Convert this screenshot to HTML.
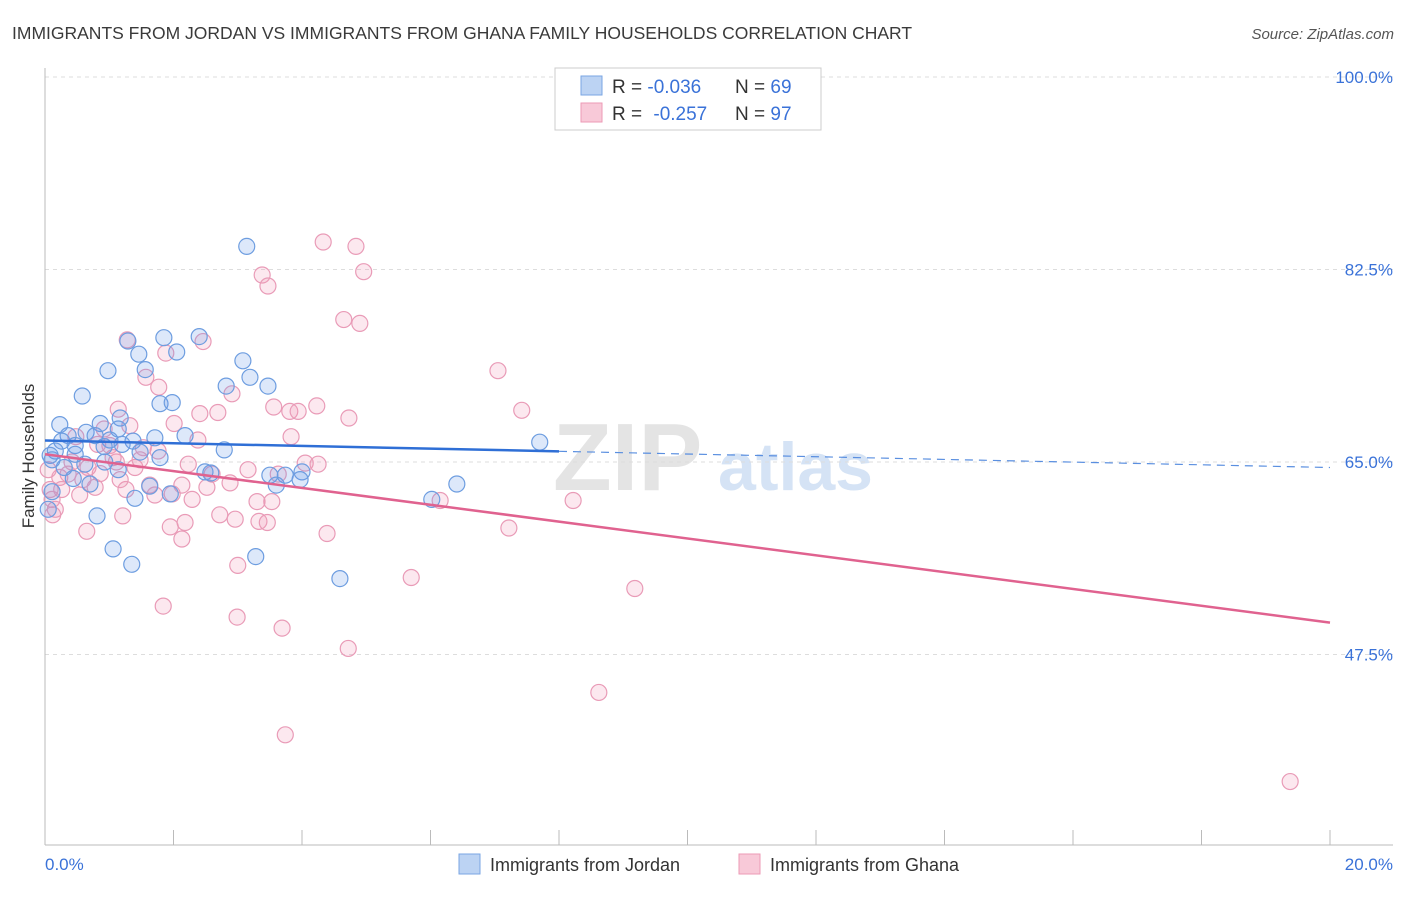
<!DOCTYPE html>
<html><head><meta charset="utf-8"><style>
body{margin:0;background:#fff;font-family:"Liberation Sans",sans-serif;}
svg text{font-family:"Liberation Sans",sans-serif;}
</style></head><body>
<svg id="chart" width="1406" height="892" xmlns="http://www.w3.org/2000/svg">
<text x="12" y="39" font-size="17.5" fill="#3a3a3a">IMMIGRANTS FROM JORDAN VS IMMIGRANTS FROM GHANA FAMILY HOUSEHOLDS CORRELATION CHART</text>
<text x="1394" y="39" font-size="15" fill="#555" font-style="italic" text-anchor="end">Source: ZipAtlas.com</text>
<g>
<text x="553" y="490" font-size="96" fill="#e4e4e4" font-family="Liberation Serif" font-weight="bold">ZIP</text>
<text x="718" y="490" font-size="68" fill="#d5e3f5" font-weight="bold">atlas</text>
</g>
<g id="grid"></g>
<g id="axes"></g>
<g id="points"></g>
<g id="trends"></g>
<text transform="translate(34,456) rotate(-90)" font-size="17" fill="#333" text-anchor="middle">Family Households</text>
<g>
<rect x="555" y="68" width="266" height="62" fill="#fff" stroke="#ccc"/>
<rect x="581" y="76" width="21" height="19" fill="#bcd3f3" stroke="#7aa6e3"/>
<rect x="581" y="103" width="21" height="19" fill="#f8c9d8" stroke="#ec9ab6"/>
<text x="612" y="93" font-size="19" fill="#333">R = <tspan fill="#3a72d8">-0.036</tspan><tspan x="735">N = </tspan><tspan fill="#3a72d8">69</tspan></text>
<text x="612" y="120" font-size="19" fill="#333">R = <tspan fill="#3a72d8" dx="6">-0.257</tspan><tspan x="735">N = </tspan><tspan fill="#3a72d8">97</tspan></text>
</g>
<g>
<g><rect x="459" y="854" width="21" height="20" fill="#bcd3f3" stroke="#7aa6e3"/><text x="490" y="871" font-size="18" fill="#333">Immigrants from Jordan</text></g>
<g><rect x="739" y="854" width="21" height="20" fill="#f8c9d8" stroke="#ec9ab6"/><text x="770" y="871" font-size="18" fill="#333">Immigrants from Ghana</text></g>
</g>
</svg>
<script>
const yTicks=[100,82.5,65,47.5];
const yTickLabels=["100.0%","82.5%","65.0%","47.5%"];
const xEndLabels=["0.0%","20.0%"];
const jordanX=[3.14,1.85,2.40,1.29,1.46,2.05,3.08,0.98,1.56,2.82,3.19,3.47,0.58,1.79,1.98,1.17,0.23,0.86,1.14,0.64,0.36,0.78,1.71,2.18,1.37,1.01,0.26,0.47,0.16,0.08,2.79,7.70,0.92,1.20,1.79,1.48,0.62,0.30,0.93,1.14,2.49,2.58,3.50,3.74,4.00,3.97,3.60,0.44,0.70,1.95,1.40,6.41,6.02,0.11,0.05,0.81,1.06,3.28,1.35,4.59,0.11,0.47,1.63];
const jordanY=[84.6,76.3,76.4,76.0,74.8,75.0,74.2,73.3,73.4,71.9,72.7,71.9,71.0,70.3,70.4,69.0,68.4,68.5,68.0,67.7,67.4,67.4,67.2,67.4,66.9,67.0,66.9,66.5,66.0,65.6,66.1,66.8,66.4,66.6,65.4,65.9,64.8,64.5,65.0,64.3,64.1,64.0,63.8,63.8,64.1,63.4,62.9,63.5,63.0,62.1,61.7,63.0,61.6,62.3,60.7,60.1,57.1,56.4,55.7,54.4,65.2,65.7,62.8];
const ghanaX=[4.33,4.84,3.38,4.96,3.47,4.65,4.90,1.28,2.46,1.88,1.57,1.77,2.91,7.05,3.56,3.81,4.23,3.94,2.41,2.69,7.42,4.73,1.14,2.01,0.92,1.32,3.83,2.38,0.48,1.01,1.53,1.76,2.23,3.16,3.63,4.05,4.25,2.60,2.88,0.42,0.67,0.23,0.86,1.11,1.40,2.13,2.52,0.78,1.26,1.63,1.71,1.98,2.29,0.26,3.30,3.53,8.22,6.15,0.11,0.16,0.54,2.72,1.21,2.96,3.33,3.46,1.95,2.18,7.22,4.39,0.65,2.13,3.00,5.70,9.18,1.84,2.99,3.69,4.72,8.62,3.74,19.38,0.05,0.08,0.12,0.36,1.48,1.06,0.82,1.17,0.59];
const ghanaY=[85.0,84.6,82.0,82.3,81.0,77.95,77.6,76.1,75.95,74.9,72.7,71.8,71.2,73.3,70.0,69.6,70.1,69.6,69.4,69.5,69.7,69.0,69.8,68.5,68.0,68.3,67.3,67.0,67.3,66.5,66.3,66.0,64.8,64.3,63.9,64.9,64.8,63.9,63.1,65.0,64.5,63.6,63.95,65.0,64.5,62.9,62.7,62.7,62.5,62.9,62.0,62.1,61.6,62.5,61.4,61.4,61.5,61.5,61.6,60.7,62.0,60.2,60.1,59.8,59.6,59.5,59.1,59.5,59.0,58.5,58.7,58.0,55.6,54.5,53.5,51.9,50.9,49.9,48.05,44.05,40.2,35.95,64.3,62.5,60.2,63.9,65.2,65.4,66.6,63.4,63.4];
const jordanTrend=[66.95,64.5];
const ghanaTrend=[65.7,50.4];
const jordanSolidEnd=8.0;

const NS="http://www.w3.org/2000/svg";
const X0=45,X1=1330,xMin=0,xMax=20;
const yPx=v=>462-(v-65)*(192.5/17.5);
const xPx=v=>X0+(v-xMin)/(xMax-xMin)*(X1-X0);
function mk(tag,attrs,parent){const e=document.createElementNS(NS,tag);for(const k in attrs)e.setAttribute(k,attrs[k]);parent.appendChild(e);return e;}
const grid=document.getElementById('grid'),axes=document.getElementById('axes'),pts=document.getElementById('points'),tr=document.getElementById('trends');
yTicks.forEach((t,i)=>{
 const l=mk('line',{x1:X0,x2:1393,y1:yPx(t),y2:yPx(t),stroke:'#ddd','stroke-dasharray':'4,4'},grid);
 
 
 const tx=mk('text',{x:1393,y:yPx(t)+6,'font-size':17,fill:'#3a72d8','text-anchor':'end'},axes);
 tx.textContent=yTickLabels[i];
 
 
});
const ax=mk('line',{x1:X0,x2:X0,y1:68,y2:845,stroke:'#bbb'},axes);


const bx=mk('line',{x1:X0,x2:1393,y1:845,y2:845,stroke:'#bbb'},axes);


for(let i=0;i<=10;i++){
 const tk=mk('line',{x1:xPx(i*2),x2:xPx(i*2),y1:830,y2:845,stroke:'#bbb'},axes);
 
 
}
[[xEndLabels[0],X0,'start'],[xEndLabels[1],1393,'end']].forEach(a=>{
 const t=mk('text',{x:a[1],y:870,'font-size':17,fill:'#3a72d8','text-anchor':a[2]},axes);
 t.textContent=a[0];
 
 
});
function drawPts(xs,ys,fill,stroke,name){
 xs.forEach((x,i)=>{
  const c=mk('circle',{cx:xPx(x),cy:yPx(ys[i]),r:8,fill:fill,stroke:stroke,'stroke-width':1.2},pts);
  
  
 });
}
drawPts(ghanaX,ghanaY,'rgba(240,150,180,0.22)','#e99bb7','ghana-point');
drawPts(jordanX,jordanY,'rgba(100,150,230,0.22)','#6d9de0','jordan-point');
const jy=x=>jordanTrend[0]+(jordanTrend[1]-jordanTrend[0])*(x-xMin)/(xMax-xMin);
const j1=mk('line',{x1:xPx(0),y1:yPx(jy(0)),x2:xPx(jordanSolidEnd),y2:yPx(jy(jordanSolidEnd)),stroke:'#2f6fd6','stroke-width':2.5},tr);


const j2=mk('line',{x1:xPx(jordanSolidEnd),y1:yPx(jy(jordanSolidEnd)),x2:xPx(20),y2:yPx(jy(20)),stroke:'#5a8fe0','stroke-width':1.2,'stroke-dasharray':'8,6'},tr);


const g1=mk('line',{x1:xPx(0),y1:yPx(ghanaTrend[0]),x2:xPx(20),y2:yPx(ghanaTrend[1]),stroke:'#e0628f','stroke-width':2.5},tr);


</script>
</body></html>
